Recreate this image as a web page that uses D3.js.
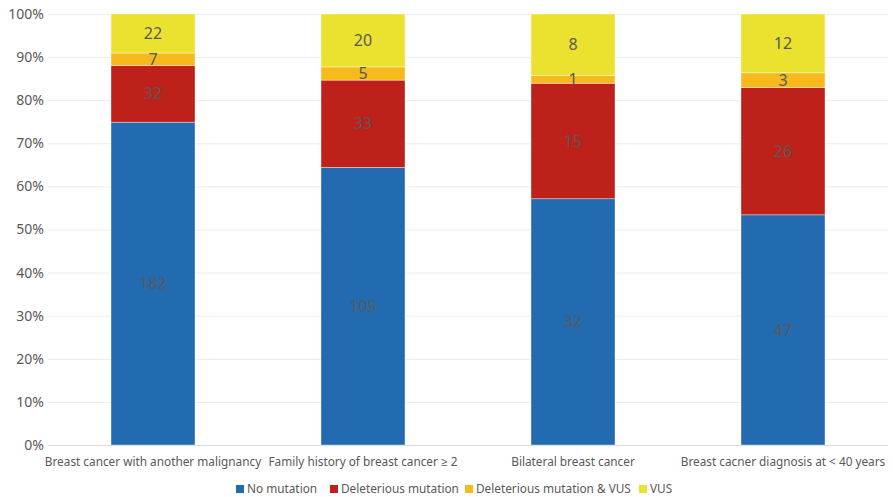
<!DOCTYPE html>
<html>
<head>
    <meta charset="utf-8">
    <title>Mutation status by group</title>
    <script src="https://cdnjs.cloudflare.com/ajax/libs/d3/7.8.5/d3.min.js"></script>
    <style>
        body { margin: 0; background: #fff; }
        svg text { font-family: "Noto Sans", "Open Sans", sans-serif; fill: #595959; }
    </style>
</head>
<body>
<script>
    var categories = [
        "Breast cancer with another malignancy",
        "Family history of breast cancer \u2265 2",
        "Bilateral breast cancer",
        "Breast cacner diagnosis at < 40 years"
    ];
    var seriesNames = ["No mutation", "Deleterious mutation", "Deleterious mutation & VUS", "VUS"];
    var noMutation = [182, 105, 32, 47];
    var deleterious = [32, 33, 15, 26];
    var deleteriousVus = [7, 5, 1, 3];
    var vus = [22, 20, 8, 12];
    var yTicks = [0, 0.1, 0.2, 0.3, 0.4, 0.5, 0.6, 0.7, 0.8, 0.9, 1];

    var colors = ["#226bb0", "#be211a", "#f6ba1d", "#ebe22f"];

    var width = 893, height = 497,
        plotLeft = 48, plotRight = 888, plotTop = 14, plotBottom = 445;

    var rows = categories.map(function(c, i) {
        var vals = [noMutation[i], deleterious[i], deleteriousVus[i], vus[i]];
        var total = d3.sum(vals);
        var row = {cat: c};
        seriesNames.forEach(function(s, j) { row[s] = vals[j] / total; row[s + "_n"] = vals[j]; });
        return row;
    });

    var stacked = d3.stack().keys(seriesNames)(rows);

    var x = d3.scaleBand().domain(categories).range([plotLeft, plotRight]).paddingInner(0.6).paddingOuter(0.3);
    var y = d3.scaleLinear().domain([0, 1]).range([plotBottom, plotTop]);

    var svg = d3.select("body").append("svg")
        .attr("width", width)
        .attr("height", height);

    // gridlines
    svg.append("g").selectAll("line")
        .data(yTicks)
        .enter().append("line")
        .attr("x1", plotLeft).attr("x2", plotRight)
        .attr("y1", function(d) { return y(d) + 0.5; })
        .attr("y2", function(d) { return y(d) + 0.5; })
        .attr("stroke", function(d) { return d === 0 ? "#d9d9d9" : "#ececec"; })
        .attr("stroke-width", 1);

    // y tick labels
    svg.append("g").selectAll("text")
        .data(yTicks)
        .enter().append("text")
        .attr("x", 44)
        .attr("y", function(d) { return y(d); })
        .attr("dy", "0.35em")
        .attr("text-anchor", "end")
        .attr("font-size", 14)
        .text(d3.format(".0%"));

    // bars
    var layer = svg.append("g").selectAll("g")
        .data(stacked)
        .enter().append("g")
        .attr("fill", function(d, i) { return colors[i]; });

    layer.selectAll("rect")
        .data(function(d) { return d; })
        .enter().append("rect")
        .attr("x", function(d) { return x(d.data.cat); })
        .attr("width", x.bandwidth())
        .attr("y", function(d) { return y(d[1]); })
        .attr("height", function(d) { return y(d[0]) - y(d[1]); })
        .attr("stroke", "#fff")
        .attr("stroke-opacity", 0.5)
        .attr("stroke-width", 0.75);

    // data labels
    stacked.forEach(function(s) {
        svg.append("g").selectAll("text")
            .data(s)
            .enter().append("text")
            .attr("x", function(d) { return x(d.data.cat) + x.bandwidth() / 2; })
            .attr("y", function(d) { return y((d[0] + d[1]) / 2); })
            .attr("dy", "0.35em")
            .attr("text-anchor", "middle")
            .attr("font-size", 16)
            .text(function(d) { return d.data[s.key + "_n"]; });
    });

    // category labels
    svg.append("g").selectAll("text")
        .data(categories)
        .enter().append("text")
        .attr("x", function(d) { return x(d) + x.bandwidth() / 2; })
        .attr("y", 466)
        .attr("text-anchor", "middle")
        .attr("font-size", 11.8)
        .text(function(d) { return d; });

    // legend
    var legendX = [236, 330, 465, 639];
    var legend = svg.append("g").selectAll("g")
        .data(seriesNames)
        .enter().append("g")
        .attr("transform", function(d, i) { return "translate(" + legendX[i] + ",485)"; });
    legend.append("rect")
        .attr("width", 8).attr("height", 8)
        .attr("fill", function(d, i) { return colors[i]; });
    legend.append("text")
        .attr("x", 11).attr("y", 4)
        .attr("dy", "0.35em")
        .attr("font-size", 11.8)
        .text(function(d) { return d; });
</script>
</body>
</html>
